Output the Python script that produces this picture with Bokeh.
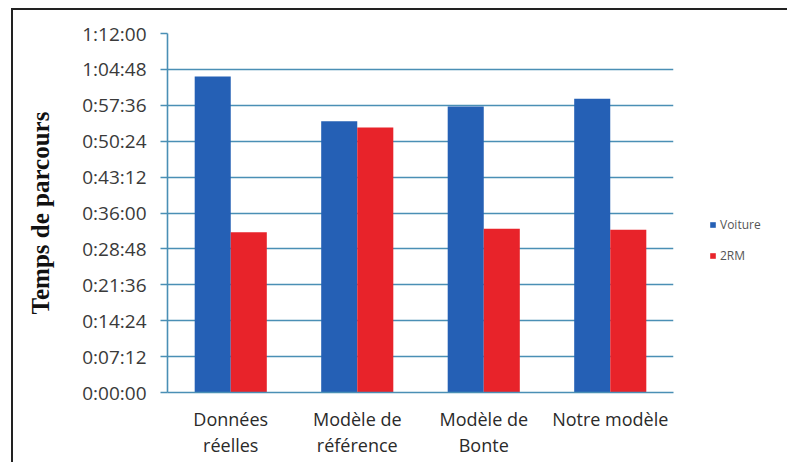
from bokeh.plotting import figure
from bokeh.models import FactorRange, Range1d, FixedTicker, ColumnDataSource, Legend, LegendItem
from bokeh.transform import dodge
from bokeh.embed import file_html
from bokeh.resources import INLINE

category_labels = ["Données\nréelles", "Modèle de\nréférence", "Modèle de\nBonte", "Notre modèle"]
voiture_hms = ["1:03:23", "0:54:25", "0:57:22", "0:58:54"]
deux_rm_hms = ["0:32:09", "0:53:09", "0:32:50", "0:32:38"]
y_tick_labels = ["0:00:00", "0:07:12", "0:14:24", "0:21:36", "0:28:48", "0:36:00",
                 "0:43:12", "0:50:24", "0:57:36", "1:04:48", "1:12:00"]


def to_seconds(t):
    h, m, s = (int(v) for v in t.split(":"))
    return h * 3600 + m * 60 + s


voiture = [to_seconds(t) for t in voiture_hms]
deux_rm = [to_seconds(t) for t in deux_rm_hms]
y_ticks = [to_seconds(t) for t in y_tick_labels]

BLUE = "#2560b5"
RED = "#e8232a"
GRID = "#4a8fb5"

source = ColumnDataSource(data=dict(cat=category_labels, voiture=voiture, rm=deux_rm))

p = figure(
    x_range=FactorRange(factors=category_labels, range_padding=0),
    y_range=Range1d(0, y_ticks[-1]),
    frame_width=506, frame_height=359,
    min_border_left=154, min_border_right=110, min_border_top=23, min_border_bottom=70,
    output_backend="svg", toolbar_location=None,
    outline_line_color=None, background_fill_color="white", border_fill_color="white",
)
p.styles = {"border-top": "2px solid #222", "border-left": "2px solid #222",
            "margin-left": "11px", "margin-top": "8px"}

r1 = p.vbar(x=dodge("cat", -0.1425, range=p.x_range), top="voiture", width=0.285,
            source=source, fill_color=BLUE, line_color=None)
r2 = p.vbar(x=dodge("cat", 0.1425, range=p.x_range), top="rm", width=0.285,
            source=source, fill_color=RED, line_color=None)

p.xgrid.visible = False
p.ygrid.grid_line_color = GRID
p.ygrid.grid_line_width = 1.6
p.ygrid.level = "underlay"

p.yaxis.ticker = FixedTicker(ticks=y_ticks, minor_ticks=[])
p.yaxis.major_label_overrides = dict(zip(y_ticks, y_tick_labels))
p.yaxis.axis_line_color = GRID
p.yaxis.axis_line_width = 1.6
p.yaxis.major_tick_line_color = GRID
p.yaxis.major_tick_line_width = 1.6
p.yaxis.major_tick_out = 7
p.yaxis.major_tick_in = 0
p.yaxis.minor_tick_line_color = None
p.yaxis.major_label_standoff = 14
p.yaxis.major_label_text_font = "Open Sans"
p.yaxis.major_label_text_font_size = "19px"
p.yaxis.major_label_text_color = "#3a3a3a"
p.yaxis.axis_label = "Temps de parcours"
p.yaxis.axis_label_text_font = "Liberation Serif"
p.yaxis.axis_label_text_font_style = "bold"
p.yaxis.axis_label_text_font_size = "25px"
p.yaxis.axis_label_text_color = "#111111"
p.yaxis.axis_label_standoff = 25

p.xaxis.axis_line_color = GRID
p.xaxis.axis_line_width = 1.6
p.xaxis.major_tick_line_color = None
p.xaxis.minor_tick_line_color = None
p.xaxis.major_label_standoff = 8
p.xaxis.major_label_text_font = "Open Sans"
p.xaxis.major_label_text_font_size = "18px"
p.xaxis.major_label_text_color = "#2a2a2a"
p.xaxis.major_label_text_line_height = 1.1

legend = Legend(
    items=[LegendItem(label="Voiture", renderers=[r1]), LegendItem(label="2RM", renderers=[r2])],
    location=(36, 128),
    glyph_width=7, glyph_height=7, label_height=7, label_width=30,
    label_text_font="Open Sans", label_text_font_size="12px", label_text_color="#555555",
    label_standoff=4, spacing=14, padding=0, margin=0,
    border_line_color=None, background_fill_alpha=0,
)
p.add_layout(legend, "right")

open("out.html", "w").write(file_html(p, INLINE))
